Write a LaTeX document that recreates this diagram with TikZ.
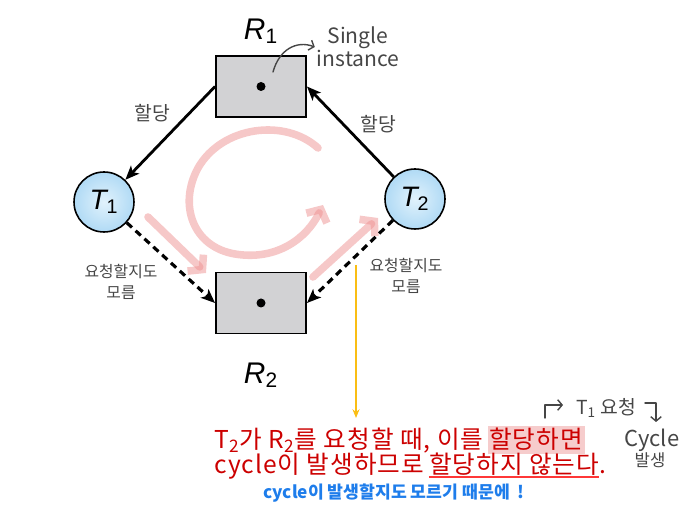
\documentclass[tikz,border=0pt]{standalone}
\usepackage{fontspec}
\usepackage{tikz}
\usetikzlibrary{arrows.meta,positioning}
\setmainfont{Liberation Sans}
\newfontfamily\kr{Noto Sans CJK KR}
\newfontfamily\krwide{Noto Sans CJK KR}[LetterSpace=4]
\definecolor{boxgray}{RGB}{210,210,212}
\definecolor{threadlight}{RGB}{225,242,252}
\definecolor{threaddeep}{RGB}{176,218,245}
\definecolor{cyclepink}{RGB}{238,145,145}
\definecolor{notered}{RGB}{204,0,0}
\definecolor{markpink}{RGB}{246,204,204}
\definecolor{ulred}{RGB}{255,55,55}
\definecolor{tipblue}{RGB}{30,125,235}
\definecolor{pen}{RGB}{70,70,70}
\definecolor{guideyellow}{RGB}{250,190,20}

\begin{document}
\begin{tikzpicture}[x=0.02cm, y=-0.02cm,
  res/.style={draw, line width=1.1pt, fill=boxgray, minimum width=1.8cm, minimum height=1.22cm},
  thr/.style={circle, draw, line width=0.9pt, inner color=threadlight, outer color=threaddeep, minimum size=1.2cm, inner sep=0pt, font=\fontsize{16}{16}\selectfont\itshape},
  lbl/.style={inner sep=0pt, font=\fontsize{17}{17}\selectfont\itshape},
  hand/.style={text=pen, align=center, inner sep=1pt, font=\kr\fontsize{9}{12}\selectfont},
  arr/.style={-{Stealth[length=8pt,width=6.5pt,inset=2pt]}, line width=1.6pt},
  req/.style={arr, line width=1.8pt, dash pattern=on 4pt off 2.8pt},
  cyc/.style={draw=cyclepink, draw opacity=0.5, line width=4.3pt, line cap=round, line join=round, -{Straight Barb[length=5.5pt,width=13pt]}},
  penarr/.style={pen, line width=0.8pt, line cap=round, -{Straight Barb[length=2.5pt,width=6pt]}},
  msg/.style={inner sep=0pt, text=notered, font=\krwide\fontsize{14}{15}\selectfont}]
\useasboundingbox (0,0) rectangle (686,509);

\coordinate (c1s) at (318,148);
\coordinate (c1e) at (323,205);
\coordinate (p1s) at (148,217);
\coordinate (p1e) at (206,273);
\coordinate (p2s) at (313,277);
\coordinate (p2e) at (378,218);
\draw[cyc] (c1s) .. controls (285,118) and (222,126) .. (198,168)
  .. controls (178,205) and (193,247) .. (235,254)
  .. controls (277,261) and (307,238) .. (c1e);
\draw[cyc] (p1s) -- (p1e);
\draw[cyc] (p2s) -- (p2e);

\node[res] (r1) at (261,86.5) {};
\node[res] (r2) at (261,303) {};
\fill (r1.center) circle (0.09cm);
\fill (r2.center) circle (0.09cm);
\node[lbl, above=0.22cm of r1] (r1lbl) {R\textsubscript{\upshape 1}};
\node[lbl, below=0.56cm of r2] (r2lbl) {R\textsubscript{\upshape 2}};
\node[thr] (t1) at (104,202) {T\textsubscript{\upshape 1}};
\node[thr] (t2) at (415,199) {T\textsubscript{\upshape 2}};

\draw[arr] (r1.west) -- (t1);
\draw[arr] (t2) -- (r1.east);
\draw[req] (t1) -- (r2.west);
\draw[req] (t2) -- (r2.east);

\node[hand, font=\kr\fontsize{11}{12}\selectfont] (a1) at (152,113) {할당};
\node[hand, font=\kr\fontsize{11}{12}\selectfont] (a2) at (378,124) {할당};
\node[hand] (q1) at (121,282) {요청할지도\\모름};
\node[hand] (q2) at (406,276) {요청할지도\\모름};

\node[hand, font=\kr\fontsize{12}{11.5}\selectfont] (single) at (358,47) {Single\\instance};
\coordinate (sgl) at (273,72);
\draw[penarr] (sgl) .. controls (279,50) and (296,40) .. (single.west);

\coordinate (gs) at (356,265);
\coordinate (ge) at (356,418);
\draw[guideyellow, line width=0.6pt, -{Stealth[length=5pt,width=4pt]}] (gs) -- (ge);

\node[msg, anchor=base west] (l1a) at (214,449) {T\textsubscript{2}가 R\textsubscript{2}를 요청할 때, 이를};
\node[msg, base right=0.2em of l1a, fill=markpink, inner xsep=1pt, inner ysep=1.5pt] (l1b) {할당하면};
\node[msg, anchor=base west] (l2a) at (214,474) {cycle이 발생하므로};
\node[msg, base right=0.25em of l2a] (l2b) {할당하지 않는다};
\node[msg, base right=0pt of l2b] (l2c) {.};
\draw[ulred, line width=1.3pt] ([yshift=-0.5pt]l2b.south west) -- ([yshift=-0.5pt]l2b.south east);
\node[anchor=base west, inner sep=0pt, text=tipblue, font=\kr\bfseries\fontsize{9.8}{11}\selectfont] (why) at (263,499) {cycle이 발생할지도 모르기 때문에 \ !};

\node[hand, font=\kr\fontsize{11}{12}\selectfont] (treq) at (606,408) {T\textsubscript{1} 요청};
\coordinate (h1a) at (545,418);
\coordinate (h1b) at (545,405);
\coordinate (h1c) at (563,405);
\coordinate (h2a) at (645,403);
\coordinate (h2b) at (656,403);
\coordinate (h2c) at (656,422);
\draw[penarr, line join=round] (h1a) -- (h1b) -- (h1c);
\draw[penarr, line join=round] (h2a) -- (h2b) -- (h2c);
\node[hand, font=\kr\fontsize{12.5}{12}\selectfont] (cyc1) at (652,440) {Cycle};
\node[hand, font=\kr\fontsize{9.5}{12}\selectfont] (cyc2) at (650,460) {발생};
\end{tikzpicture}
\end{document}
